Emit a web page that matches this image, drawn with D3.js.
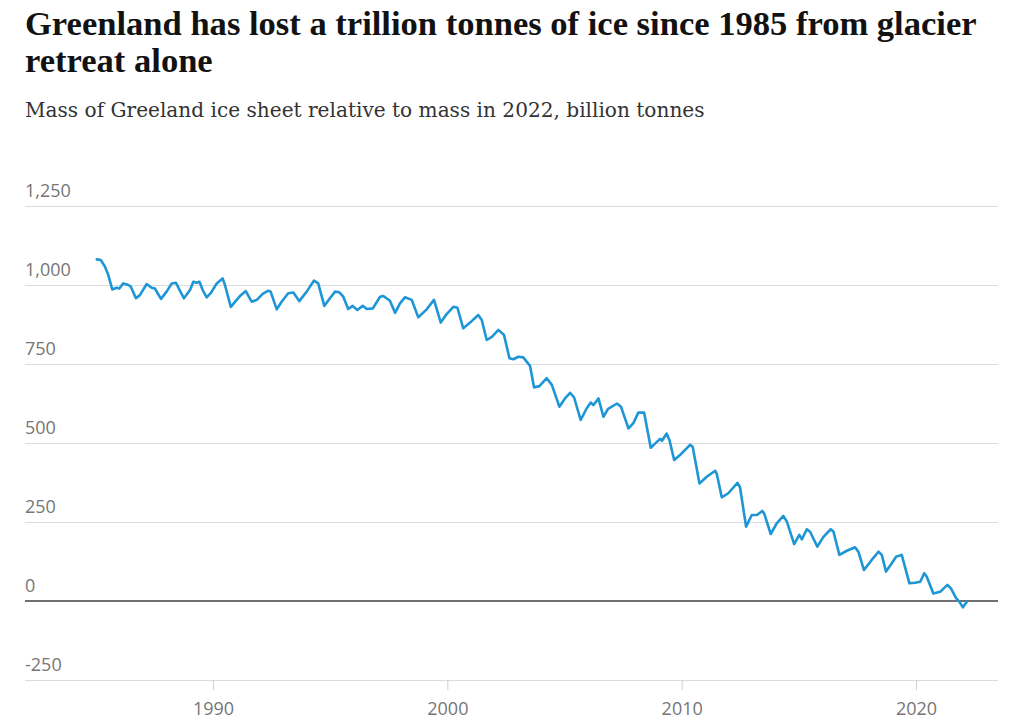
<!DOCTYPE html>
<html><head><meta charset="utf-8">
<script src="https://cdn.jsdelivr.net/npm/d3@7"></script>
<style>body{margin:0;background:#fff;}</style>
</head><body><svg id="chart" width="1024" height="720"></svg>
<script>
const titleLines = ["Greenland has lost a trillion tonnes of ice since 1985 from glacier", "retreat alone"];
const subtitle = "Mass of Greeland ice sheet relative to mass in 2022, billion tonnes";
const yTicks = [-250, 0, 250, 500, 750, 1000, 1250];
const yTickLabels = ["-250", "0", "250", "500", "750", "1,000", "1,250"];
const xTicks = [1990, 2000, 2010, 2020];

// decimal years
const years = [
1985.04,1985.21,1985.39,1985.53,1985.70,1985.89,1986.00,1986.17,1986.39,1986.49,
1986.71,1986.88,1987.17,1987.38,1987.52,1987.78,1988.02,1988.24,1988.42,1988.56,
1988.76,1989.02,1989.16,1989.30,1989.42,1989.56,1989.73,1989.90,1990.16,1990.41,
1990.51,1990.76,1991.01,1991.15,1991.40,1991.65,1991.87,1992.12,1992.36,1992.46,
1992.72,1992.93,1993.21,1993.43,1993.68,1994.00,1994.31,1994.49,1994.75,1994.99,
1995.21,1995.39,1995.56,1995.77,1995.96,1996.16,1996.39,1996.56,1996.82,1997.13,
1997.27,1997.55,1997.77,1997.98,1998.19,1998.48,1998.76,1999.12,1999.43,1999.72,
1999.97,2000.26,2000.43,2000.68,2000.97,2001.32,2001.47,2001.68,2001.90,2002.18,
2002.42,2002.65,2002.82,2003.03,2003.24,2003.53,2003.70,2003.93,2004.24,2004.46,
2004.78,2005.02,2005.24,2005.41,2005.69,2005.95,2006.12,2006.23,2006.45,2006.66,
2006.86,2007.24,2007.41,2007.73,2007.94,2008.15,2008.40,2008.68,2008.92,2009.08,
2009.16,2009.36,2009.48,2009.68,2009.93,2010.36,2010.47,2010.76,2011.07,2011.43,
2011.50,2011.71,2011.99,2012.38,2012.49,2012.75,2012.99,2013.21,2013.44,2013.52,
2013.80,2014.06,2014.34,2014.49,2014.80,2015.02,2015.13,2015.34,2015.48,2015.79,
2016.05,2016.36,2016.48,2016.73,2017.05,2017.40,2017.54,2017.78,2018.11,2018.40,
2018.54,2018.72,2019.01,2019.15,2019.39,2019.72,2019.96,2020.18,2020.35,2020.46,
2020.74,2021.03,2021.34,2021.49,2021.71,2021.85,2022.00,2022.17
];
// billion tonnes relative to 2022
const mass = [
1081,1079,1058,1032,986,991,989,1005,1000,995,
958,968,1003,991,989,956,979,1005,1007,986,
958,984,1010,1007,1010,984,961,974,1005,1021,
1000,931,953,965,981,947,953,972,982,979,
923,947,974,976,949,979,1014,1005,934,958,
979,977,963,924,934,921,934,924,926,963,
965,950,912,942,961,953,898,923,953,881,
908,931,928,863,881,905,889,826,836,858,
842,768,765,773,771,744,676,680,705,684,
615,641,659,644,573,610,628,620,641,583,
608,625,615,546,563,596,596,485,502,513,
507,530,509,446,462,494,488,372,393,412,
402,328,341,374,360,235,272,272,285,277,
212,246,269,251,180,209,195,227,219,172,
203,227,219,146,159,170,156,98,130,156,
146,93,124,140,146,56,58,61,88,77,
24,29,51,40,9,-2,-20,-2
];

const svg = d3.select("#chart");
const left = 25, right = 998;
const x = d3.scaleLinear().domain([1990, 2020]).range([213, 916]);
const y = d3.scaleLinear().domain([-250, 1250]).range([680, 206]);

// Title: size fitted so line 1 spans the reference width naturally
const titleFont = "'Liberation Serif', 'Times New Roman', serif";
const t1 = svg.append("text").attr("x", left).attr("y", 35)
  .attr("font-family", titleFont).attr("font-weight", "bold")
  .attr("font-size", 30).attr("fill", "#121212").text(titleLines[0]);
const nat1 = t1.node().getComputedTextLength();
const titleSize = Math.min(36, 30 * 952 / nat1);
t1.attr("font-size", titleSize);
svg.append("text").attr("x", left).attr("y", 72)
  .attr("font-family", titleFont).attr("font-weight", "bold")
  .attr("font-size", titleSize).attr("fill", "#121212").text(titleLines[1]);

// Subtitle: size fitted to reference width
const st = svg.append("text").attr("x", left).attr("y", 117)
  .attr("font-family", "'DejaVu Serif', serif")
  .attr("font-size", 17).attr("fill", "#333").text(subtitle);
const stn = st.node().getComputedTextLength();
st.attr("font-size", Math.min(21, 17 * 680 / stn));

// Y gridlines + labels
const yAxis = d3.axisRight(y).tickValues(yTicks).tickSize(right - left)
  .tickFormat((d, i) => yTickLabels[i]);
const gy = svg.append("g").attr("transform", `translate(${left},0)`).call(yAxis);
gy.select(".domain").remove();
gy.selectAll(".tick line")
  .attr("stroke", "#dcdcdc").attr("stroke-width", 1);
gy.selectAll(".tick").filter(d => d === 0).select("line").remove();
gy.selectAll(".tick text")
  .attr("x", 0).attr("y", -10).attr("dy", null)
  .attr("text-anchor", "start")
  .attr("font-family", "'Open Sans', sans-serif").attr("font-size", 18)
  .attr("fill", "#767676");

// X axis ticks
const xAxis = d3.axisBottom(x).tickValues(xTicks).tickSize(10).tickFormat(d3.format("d"));
const gx = svg.append("g").attr("transform", "translate(0,680)").call(xAxis);
gx.select(".domain").remove();
gx.selectAll(".tick line").attr("stroke", "#cfcfcf");
gx.selectAll(".tick text")
  .attr("y", 35).attr("dy", null)
  .attr("font-family", "'Open Sans', sans-serif").attr("font-size", 18)
  .attr("fill", "#767676");

// zero line
svg.append("line").attr("x1", left).attr("x2", right)
  .attr("y1", y(0)).attr("y2", y(0))
  .attr("stroke", "#707070").attr("stroke-width", 2);

// data line
const data = years.map((yr, i) => ({yr, v: mass[i]}));
const line = d3.line().x(d => x(d.yr)).y(d => y(d.v));
svg.append("path").datum(data).attr("d", line)
  .attr("fill", "none").attr("stroke", "#1e96d6")
  .attr("stroke-width", 2.6).attr("stroke-linejoin", "round").attr("stroke-linecap", "round");
</script>
</body></html>
